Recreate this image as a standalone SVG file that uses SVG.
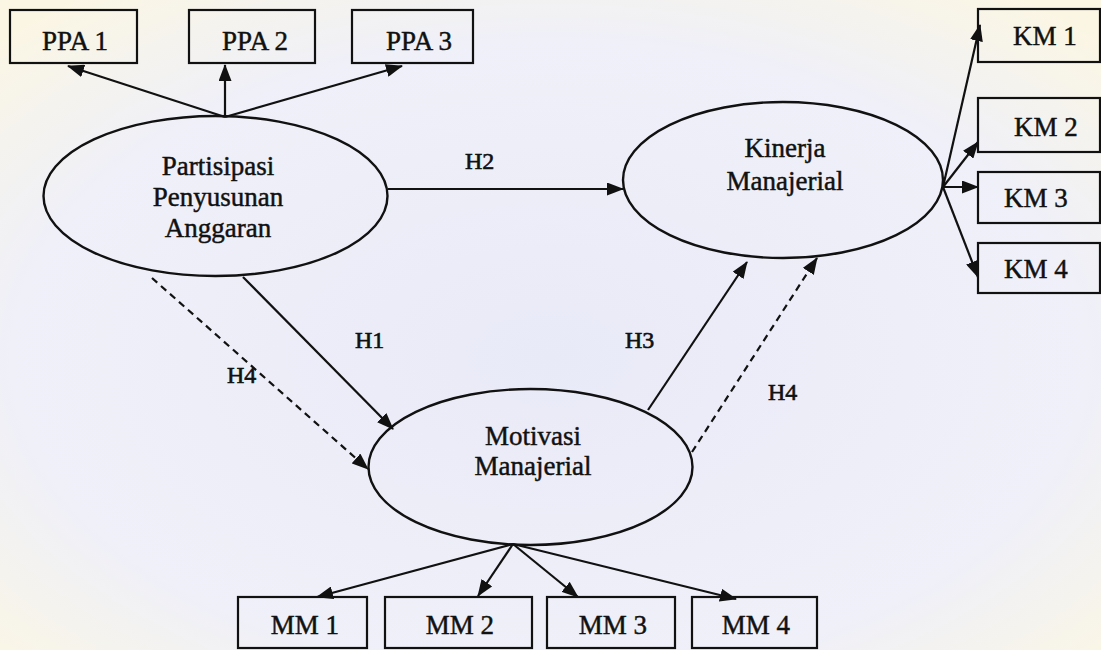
<svg xmlns="http://www.w3.org/2000/svg" width="1101" height="650" viewBox="0 0 1101 650">
<style>
.box{fill:none;stroke:#111;stroke-width:2.2}
.ell{fill:none;stroke:#111;stroke-width:2.4}
.t{font-family:"Liberation Serif","Times New Roman",serif;font-size:27px;fill:#111;stroke:#111;stroke-width:0.45;text-anchor:middle}
.h{font-family:"Liberation Serif","Times New Roman",serif;font-size:24px;fill:#111;stroke:#111;stroke-width:0.6}
.c{stroke:#111;stroke-width:2.2;fill:none;marker-end:url(#ah)}
.d{stroke-dasharray:7,5}
</style>
<defs>
<marker id="ah" markerUnits="userSpaceOnUse" markerWidth="17" markerHeight="13" refX="16" refY="6.5" orient="auto">
<path d="M0,0 L17,6.5 L0,13 z" fill="#111"/>
</marker>
<radialGradient id="bg" cx="0.5" cy="0.55" r="0.7">
<stop offset="0" stop-color="#e9eaf7"/>
<stop offset="0.7" stop-color="#eff0f8"/>
<stop offset="1" stop-color="#fbf6e4"/>
</radialGradient>
</defs>
<rect width="1101" height="650" fill="url(#bg)"/>
<g id="connectors">
<line class="c" x1="225" y1="117" x2="68" y2="66"/>
<line class="c" x1="225" y1="117" x2="225" y2="65"/>
<line class="c" x1="225" y1="117" x2="402" y2="66"/>
<line class="c" x1="388" y1="189" x2="623" y2="189"/>
<line class="c" x1="243" y1="277" x2="393" y2="429"/>
<line class="c d" x1="152" y1="278" x2="368" y2="469"/>
<line class="c" x1="648" y1="410" x2="747" y2="262"/>
<line class="c d" x1="692" y1="452" x2="817" y2="258"/>
<line class="c" x1="943" y1="187" x2="980" y2="25"/>
<line class="c" x1="943" y1="187" x2="978" y2="142"/>
<line class="c" x1="943" y1="187" x2="978" y2="187"/>
<line class="c" x1="943" y1="187" x2="978" y2="277"/>
<line class="c" x1="513" y1="544" x2="317" y2="597"/>
<line class="c" x1="513" y1="544" x2="478" y2="596"/>
<line class="c" x1="513" y1="544" x2="578" y2="597"/>
<line class="c" x1="513" y1="544" x2="736" y2="599"/>
<text class="h" x="465" y="169">H2</text>
<text class="h" x="355" y="348">H1</text>
<text class="h" x="625" y="348">H3</text>
<text class="h" x="227" y="383">H4</text>
<text class="h" x="768" y="400">H4</text>
</g>
<g id="ppa">
<ellipse class="ell" cx="215.5" cy="196" rx="172" ry="80"/>
<text class="t" x="218" y="175">Partisipasi</text>
<text class="t" x="218" y="206">Penyusunan</text>
<text class="t" x="218" y="237">Anggaran</text>
</g>
<g id="km">
<ellipse class="ell" cx="783" cy="180" rx="160" ry="78"/>
<text class="t" x="785" y="157">Kinerja</text>
<text class="t" x="785" y="190">Manajerial</text>
</g>
<g id="mm">
<ellipse class="ell" cx="530.5" cy="467" rx="162" ry="78"/>
<text class="t" x="533" y="445">Motivasi</text>
<text class="t" x="533" y="475">Manajerial</text>
</g>
<g id="ppa1"><rect class="box" x="10" y="10" width="127" height="53"/><text class="t" x="75" y="50">PPA 1</text></g>
<g id="ppa2"><rect class="box" x="189" y="10" width="126" height="53"/><text class="t" x="255" y="50">PPA 2</text></g>
<g id="ppa3"><rect class="box" x="352" y="10" width="121" height="53"/><text class="t" x="419" y="50">PPA 3</text></g>
<g id="km1"><rect class="box" x="978" y="9" width="122" height="53"/><text class="t" x="1045" y="45">KM 1</text></g>
<g id="km2"><rect class="box" x="978" y="98" width="122" height="54"/><text class="t" x="1046" y="136">KM 2</text></g>
<g id="km3"><rect class="box" x="978" y="172" width="122" height="51"/><text class="t" x="1036" y="207">KM 3</text></g>
<g id="km4"><rect class="box" x="978" y="243" width="122" height="50"/><text class="t" x="1036" y="278">KM 4</text></g>
<g id="mm1"><rect class="box" x="238" y="597" width="129" height="51"/><text class="t" x="305" y="634">MM 1</text></g>
<g id="mm2"><rect class="box" x="385" y="597" width="147" height="51"/><text class="t" x="460" y="634">MM 2</text></g>
<g id="mm3"><rect class="box" x="547" y="597" width="128" height="51"/><text class="t" x="613" y="634">MM 3</text></g>
<g id="mm4"><rect class="box" x="692" y="597" width="125" height="51"/><text class="t" x="756" y="634">MM 4</text></g>
</svg>
